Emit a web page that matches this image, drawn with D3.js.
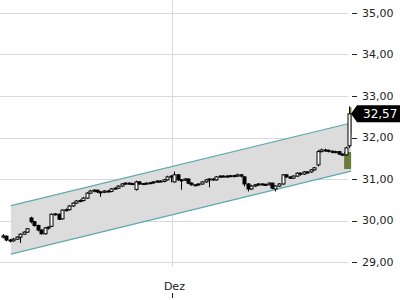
<!DOCTYPE html>
<html><head><meta charset="utf-8">
<script src="https://cdn.jsdelivr.net/npm/d3@7"></script>
<style>html,body{margin:0;padding:0;background:#fff;}svg{display:block;font-family:"DejaVu Sans",sans-serif;}</style>
</head><body>
<svg id="c" width="400" height="300"></svg>
<script>
const opens  = [29.60,29.62,29.53,29.51,29.55,29.60,29.67,29.72,30.06,29.97,29.88,29.77,29.68,29.82,29.86,30.15,30.15,30.04,30.25,30.26,30.35,30.42,30.47,30.48,30.54,30.66,30.71,30.73,30.69,30.68,30.71,30.70,30.76,30.78,30.83,30.88,30.90,30.89,30.75,30.93,30.88,30.89,30.90,30.91,30.93,30.95,30.94,30.98,31.05,30.93,31.10,30.98,30.97,31.00,30.90,30.86,30.86,30.88,30.93,30.98,31.00,30.98,31.05,31.07,31.06,31.07,31.08,31.07,31.10,31.05,30.88,30.76,30.83,30.86,30.88,30.87,30.86,30.90,30.76,30.83,30.88,31.10,31.05,31.02,31.07,31.14,31.12,31.17,31.17,31.22,31.34,31.66,31.70,31.69,31.67,31.65,31.66,31.60,31.58,31.80];
const highs  = [29.67,29.64,29.56,29.58,29.62,29.69,29.74,29.82,30.09,29.99,29.90,29.79,29.84,29.86,30.17,30.18,30.17,30.27,30.29,30.37,30.44,30.49,30.51,30.57,30.68,30.74,30.75,30.74,30.71,30.73,30.73,30.78,30.80,30.85,30.90,30.92,30.92,30.91,30.96,30.94,30.90,30.92,30.92,30.95,30.97,30.97,31.00,31.08,31.09,31.18,31.12,31.00,31.02,31.01,30.92,30.88,30.90,30.95,31.00,31.02,31.02,31.07,31.09,31.09,31.09,31.10,31.10,31.13,31.12,31.07,30.90,30.86,30.88,30.90,30.90,30.89,30.92,30.91,30.85,30.90,31.12,31.11,31.06,31.09,31.16,31.16,31.19,31.19,31.24,31.29,31.70,31.73,31.73,31.71,31.69,31.68,31.67,31.62,31.78,32.75];
const lows   = [29.57,29.50,29.47,29.49,29.53,29.46,29.65,29.70,29.93,29.85,29.74,29.66,29.66,29.78,29.84,30.12,30.01,30.02,30.22,30.24,30.33,30.40,30.44,30.46,30.52,30.64,30.68,30.66,30.57,30.66,30.68,30.68,30.74,30.76,30.81,30.86,30.87,30.86,30.72,30.86,30.86,30.87,30.88,30.89,30.91,30.93,30.92,30.96,30.92,30.91,30.96,30.74,30.95,30.88,30.84,30.84,30.84,30.86,30.91,30.80,30.96,30.96,31.03,31.05,31.04,31.05,31.05,31.05,31.04,30.82,30.70,30.74,30.81,30.84,30.85,30.84,30.84,30.76,30.70,30.81,30.86,31.03,31.00,31.00,31.05,31.08,31.10,31.13,31.15,31.20,31.30,31.64,31.66,31.64,31.62,31.62,31.58,31.55,31.56,31.75];
const closes = [29.63,29.53,29.51,29.55,29.60,29.67,29.72,29.80,29.97,29.88,29.77,29.68,29.82,29.84,30.15,30.16,30.03,30.25,30.26,30.35,30.42,30.47,30.48,30.54,30.66,30.71,30.73,30.69,30.68,30.71,30.70,30.76,30.78,30.83,30.88,30.90,30.89,30.88,30.93,30.88,30.89,30.90,30.91,30.93,30.95,30.94,30.98,31.05,31.07,31.10,30.98,30.97,31.00,30.90,30.86,30.86,30.88,30.93,30.98,31.00,30.98,31.05,31.07,31.06,31.07,31.08,31.07,31.10,31.07,30.88,30.76,30.83,30.86,30.88,30.87,30.86,30.90,30.78,30.83,30.88,31.10,31.05,31.02,31.07,31.14,31.12,31.17,31.17,31.22,31.27,31.66,31.70,31.69,31.67,31.65,31.66,31.60,31.58,31.75,32.57];

const yTicks = [29, 30, 31, 32, 33, 34, 35];
const xTickLabels = ["Dez"];
const xTickPositions = [48.4];

// trend channel (index, price) endpoints
const channelIdx = [2.4, 99.6];
const channelUpper = [30.36, 32.35];
const channelLower = [29.19, 31.19];

// highlighted zones: [fromIdx, toIdx, low, high]
const zoneFrom = [97.6, 99.0];
const zoneTo   = [99.6, 99.7];
const zoneLow  = [31.24, 32.06];
const zoneHigh = [31.65, 32.73];

const fmt = v => d3.format(".2f")(v).replace(".", ",");

const svg = d3.select("#c");
const n = closes.length;
const x = d3.scaleLinear().domain([0, n - 1]).range([2.5, 349]);
const y = d3.scaleLinear().domain([29, 35]).range([262, 13]);

// grid
svg.append("g").selectAll("line").data(yTicks).join("line")
  .attr("x1", 0).attr("x2", 348)
  .attr("y1", d => Math.round(y(d)) + 0.5).attr("y2", d => Math.round(y(d)) + 0.5)
  .attr("stroke", "#d9d9d9").attr("stroke-width", 1);
svg.append("g").selectAll("line").data(xTickPositions).join("line")
  .attr("x1", d => Math.round(x(d)) + 0.5).attr("x2", d => Math.round(x(d)) + 0.5)
  .attr("y1", 0).attr("y2", 267)
  .attr("stroke", "#d9d9d9").attr("stroke-width", 1);

// channel
const chPts = [
  [x(channelIdx[0]), y(channelUpper[0])],
  [x(channelIdx[1]), y(channelUpper[1])],
  [x(channelIdx[1]), y(channelLower[1])],
  [x(channelIdx[0]), y(channelLower[0])]
];
svg.append("polygon").attr("points", chPts.map(p => p.join(",")).join(" "))
  .attr("fill", "#dcdcdc").attr("stroke", "none");
[[channelUpper], [channelLower]].forEach(([arr]) => {
  svg.append("line")
    .attr("x1", x(channelIdx[0])).attr("y1", y(arr[0]))
    .attr("x2", x(channelIdx[1])).attr("y2", y(arr[1]))
    .attr("stroke", "#5ea9ab").attr("stroke-width", 1.2);
});

// zones
svg.append("g").selectAll("rect").data(zoneFrom.map((f, i) => i)).join("rect")
  .attr("x", i => x(zoneFrom[i]))
  .attr("width", i => x(zoneTo[i]) - x(zoneFrom[i]))
  .attr("y", i => y(zoneHigh[i]))
  .attr("height", i => y(zoneLow[i]) - y(zoneHigh[i]))
  .attr("fill", "#6b7c3c");

// candles
const g = svg.append("g");
const bw = 3;
d3.range(n).forEach(i => {
  const cx = Math.round(x(i)) + 0.5;
  g.append("line").attr("x1", cx).attr("x2", cx)
    .attr("y1", y(highs[i])).attr("y2", y(lows[i]))
    .attr("stroke", "#000").attr("stroke-width", 1);
  const up = closes[i] >= opens[i];
  const top = y(Math.max(opens[i], closes[i]));
  const bot = y(Math.min(opens[i], closes[i]));
  g.append("rect").attr("x", cx - bw / 2).attr("width", bw)
    .attr("y", top).attr("height", Math.max(1, bot - top))
    .attr("fill", up ? "#fff" : "#000").attr("stroke", "#000").attr("stroke-width", 1);
});

// right axis
const ax = svg.append("g");
ax.selectAll("line").data(yTicks).join("line")
  .attr("x1", 352).attr("x2", 357)
  .attr("y1", d => Math.round(y(d)) + 0.5).attr("y2", d => Math.round(y(d)) + 0.5)
  .attr("stroke", "#222");
ax.selectAll("text").data(yTicks).join("text")
  .attr("x", 362).attr("y", d => y(d)).attr("dy", "0.36em")
  .attr("font-size", 11).attr("fill", "#222").text(d => fmt(d));

// bottom axis
const bx = svg.append("g");
bx.selectAll("line").data(xTickPositions).join("line")
  .attr("x1", d => Math.round(x(d)) + 0.5).attr("x2", d => Math.round(x(d)) + 0.5)
  .attr("y1", 293).attr("y2", 298).attr("stroke", "#222");
bx.selectAll("text").data(xTickPositions).join("text")
  .attr("x", d => x(d) + 2.5).attr("y", 290).attr("text-anchor", "middle")
  .attr("font-size", 11).attr("fill", "#222").text((d, i) => xTickLabels[i]);

// last price label
const last = closes[n - 1];
const ly = y(last);
svg.append("polygon")
  .attr("points", [[351, ly], [357, ly - 8.5], [400, ly - 8.5], [400, ly + 8.5], [357, ly + 8.5]].map(p => p.join(",")).join(" "))
  .attr("fill", "#000");
svg.append("text").attr("x", 363).attr("y", ly).attr("dy", "0.37em")
  .attr("font-size", 12).attr("fill", "#fff").text(fmt(last));
</script>
</body></html>
